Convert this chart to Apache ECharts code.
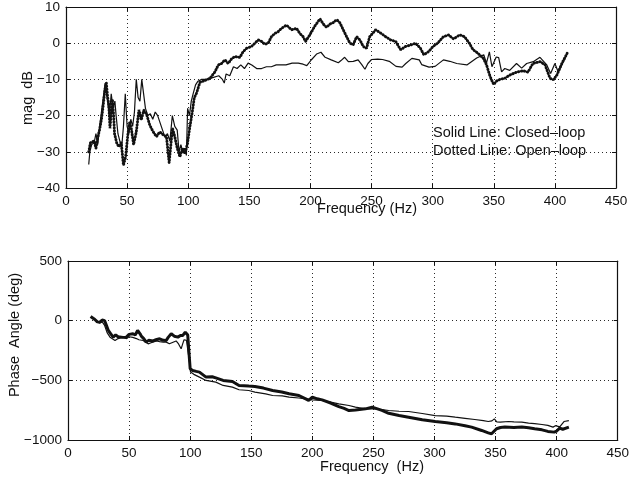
<!DOCTYPE html>
<html>
<head>
<meta charset="utf-8">
<script src="https://cdn.jsdelivr.net/npm/echarts@6/dist/echarts.min.js"></script>
<style>
html,body{margin:0;padding:0;background:#fff;}
#chart{width:632px;height:481px;}
</style>
</head>
<body>
<div id="chart"></div>
<script>
// ---------- DATA ----------
// Top panel: magnitude (dB)
var magFreqClosed = [18.6,19.5,21,23,24.5,26,27.5,29,30.5,32,33,34,35.5,37,38.5,40,41,42.5,44,45.5,47,48.5,50,51.5,53,54.5,56,57.5,59,60.5,62,63.5,65,67,69,71,73,75,77,79,81,83,85,87,89,91,92.5,94,95.5,97,98.5,99.5,101,102.5,104,106,108,111,115,120,125,128,129.5,131,134,137,140,143,146,149,152,156,160,164,168,172,176,180,185,190,194,197,201,205,208.6,212,217,222.8,225,228,231,235,239,242,244.6,247,250,255,259,264.5,270,275,278,283,289,291,297,302,308.8,314,319.7,328,336,341.8,344,346.4,348.5,352,354,356.4,359,363,368.6,372.8,376.9,382.3,387.8,393.2,396.5,400,402.8,406.9,410];
var magClosed = [-33.5,-30,-28,-27.5,-25,-28,-23,-19,-15,-11,-10.5,-16,-20,-14,-18,-16,-20,-25,-27,-29,-23,-14,-23,-25,-21,-23,-19,-10,-15,-16,-10,-14,-18,-20,-19.5,-21,-19,-20,-22,-24,-26,-25,-27,-20,-23,-24,-30,-28,-30,-29,-31,-18,-20,-16,-14,-11.5,-10.5,-10,-10,-9.5,-9,-10,-11,-8.5,-9,-6.5,-7,-6,-7,-5.5,-6,-7,-7,-6.5,-6.5,-6,-6,-6,-5.5,-5.5,-5.8,-6.2,-4.5,-3,-2.5,-3.9,-4.6,-5.4,-4.8,-3.9,-5.1,-5,-4.6,-5.9,-7.2,-5.6,-4.5,-4.4,-4.5,-5,-6.4,-6.6,-5.6,-4.2,-4.6,-5.9,-6.6,-6.4,-4.6,-5,-5.6,-6,-4.1,-3.2,-5.5,-2.4,-6.5,-3.8,-4,-7.9,-7,-7.5,-5.6,-6.9,-5.6,-5.1,-3.9,-5.9,-8.4,-5.6,-8,-5.1,-2.8];
var magFreqOpen = [18.6,20,21.5,23,24.5,26,27.4,29,30,31.5,32.3,33,34,35,36,37,38,39,39.7,41.6,43.3,45.2,47,48.8,50.7,52,53.4,55.3,57.5,59.7,61.6,63.6,65.8,68.5,71.2,74,76.7,79.5,82.2,84.4,87.1,89,91,93.2,95.3,97.3,99.2,101.4,103.6,105,106.8,109.6,113.7,117.8,121.9,124.6,127.3,130,132.7,135.5,138.2,142.3,145,147.7,151.8,154.5,157.3,160,162.7,165.4,168.1,170.9,173.6,176.3,180.4,184.5,188.6,191.3,194,196,199.5,203.7,207.8,210.5,213.2,216,218.7,221.5,224,227,229.6,232.3,235,237.8,240.5,243.2,245.9,248.5,253.3,257.5,261.5,265.6,269.7,273.8,277.8,282,286,290,292.8,296.8,300,304,308.8,313,317,322.3,326,330,333,336,338.7,341.5,344,346.4,348,350,352,355,359,363,368.6,374,378,382,388,392,396,398.8,401.6,405.7,410];
var magOpen = [-30,-27.5,-28,-27,-29,-26,-24,-21,-18.4,-14,-12,-11,-14.7,-17,-23.5,-19,-15.6,-20,-25,-27.7,-28.6,-27.5,-33.7,-31.4,-25,-22,-23.5,-28,-24.5,-18.4,-21.2,-18.5,-19.5,-22.6,-24.4,-25.8,-24.5,-25.3,-25.8,-33,-23.5,-25.8,-29,-31.4,-29,-30.5,-28,-23,-18.4,-15,-13.8,-10.8,-10.3,-9.7,-7.9,-6,-5.6,-4.6,-5.6,-4.3,-3.7,-3.9,-2.3,-1.4,-0.9,0,0.9,0.5,-0.3,0,1.8,2.7,3.2,4.1,5,3.7,4.1,2.7,1.8,0.5,2.3,4.8,6.7,5.3,4.4,5.3,5.7,6.5,5.7,3.6,1.8,0,-0.4,1.8,0.9,-0.9,-1.4,1.8,3.7,2.8,1.8,0.9,0.5,-1.8,-0.9,-0.5,0,-1.4,-3.2,-2.3,-1,0,1.8,2.3,1.2,2.3,1.8,0,-1.8,-2.5,-3.3,-4.2,-5.9,-8.6,-10,-11.4,-10.5,-10,-9.7,-8.8,-8,-7.6,-8,-5.6,-5.1,-6,-9.7,-10.1,-8.8,-5.6,-2.8];

// Bottom panel: phase angle (deg)
var phaseFreqClosed = [20.6,23,26,28,30,32,34.4,36,38.5,41,43,45.2,48,50,53,56,58,61.5,63,65.6,68,70,72.4,75,78,80.4,83,85,88.5,90.5,92.6,94,95,97,98,99.5,100.3,103,107.6,113,121,127,134.6,140,148,153,161.8,167.5,175.4,181,189,194.6,200,208,215,221.7,230,235.3,243.5,249,257,262.5,271,278.8,290,300.6,310,317,325,333,340,344,347,349,351,353.8,360.6,365,371.5,377,382,388,392.8,397,399,400.5,402.5,406,410];
var phaseClosed = [16,0,-20,-10,-40,-100,-138,-150,-166,-150,-145,-140,-150,-135,-140,-150,-160,-166,-180,-194,-185,-178,-170,-175,-180,-180,-194,-185,-170,-195,-236,-190,-160,-165,-152,-350,-431,-450,-473,-501,-515,-543,-557,-579,-585,-599,-613,-627,-630,-641,-648,-655,-664,-669,-682,-697,-711,-725,-739,-738,-745,-753,-759,-761,-778,-795,-800,-809,-818,-828,-838,-845,-840,-823,-848,-851,-845,-848,-851,-858,-862,-870,-878,-892,-880,-885,-890,-845,-837];
var phaseFreqOpen = [18.5,20,22,24,26,28,30,31.5,33,35,37,39,41,42.4,45,47.8,50,53.2,55,57,59,60,62,64,66,69.6,72,75,78,80.4,82,84.5,87,90,92,94,96,98,99,100,102,105,107.6,113,118,121,127,134.6,140,148,153,160,167.5,175,181,189,194.6,197,200,204,208,215,221.7,226,230,235.3,243.5,249,257,262.5,271,278.8,290,300.6,310,317,325,330.4,338.6,344,346.7,350.8,354,357.6,365,371.5,377,382,388,392.8,398,400,402.5,405,410];
var phaseOpen = [35,20,10,-10,-13,5,0,-40,-82,-110,-138,-120,-135,-125,-140,-138,-115,-110,-120,-82,-110,-130,-150,-180,-165,-170,-160,-152,-165,-166,-140,-110,-130,-138,-125,-124,-96,-120,-264,-403,-417,-425,-431,-473,-470,-480,-501,-510,-543,-548,-551,-565,-585,-598,-613,-627,-655,-668,-641,-655,-664,-690,-720,-735,-753,-748,-739,-725,-752,-776,-795,-809,-830,-845,-855,-865,-880,-892,-920,-940,-948,-906,-895,-892,-895,-892,-898,-906,-915,-928,-934,-925,-900,-910,-892];

// Tick values / labels
var freqTicks = [0,50,100,150,200,250,300,350,400,450];
var magTicks = [-40,-30,-20,-10,0,10];
var phaseTicks = [-1000,-500,0,500];
var texts = {
  magName: 'mag  dB',
  phaseName: 'Phase  Angle (deg)',
  freqTop: 'Frequency (Hz)',
  freqBottom: 'Frequency  (Hz)',
  legend1: 'Solid Line: Closed\u2013loop',
  legend2: 'Dotted Line: Open\u2013loop'
};

// ---------- CHART ----------
function zip(xs, ys){ return xs.map(function(x,i){ return [x, ys[i]]; }); }
function fmt(v){ return String(v).replace('-', '\u2212'); }

var FONT = 'Liberation Sans, Arial, Helvetica, sans-serif';
var INK = '#111111';
var gridLine = { show:true, lineStyle:{ color:'#2a2a2a', width:1, type:[1,3] } };

function xAx(gi, pos, labels){
  return {
    type:'value', gridIndex:gi, position:pos, min:0, max:450, interval:50,
    axisLine:{ show:true, onZero:false, lineStyle:{ color:INK, width:1.2 } },
    axisTick:{ show:true, inside:true, length:4, lineStyle:{ color:INK } },
    axisLabel:{ show:labels, color:INK, fontFamily:FONT, fontSize:13.5, margin:6, formatter:fmt },
    splitLine: labels ? gridLine : { show:false }
  };
}
function yAx(gi, pos, labels, mn, mx, iv){
  return {
    type:'value', gridIndex:gi, position:pos, min:mn, max:mx, interval:iv,
    axisLine:{ show:true, onZero:false, lineStyle:{ color:INK, width:1.2 } },
    axisTick:{ show:true, inside:true, length:4, lineStyle:{ color:INK } },
    axisLabel:{ show:labels, color:INK, fontFamily:FONT, fontSize:13.5, margin:6, formatter:fmt },
    splitLine: labels ? gridLine : { show:false }
  };
}

var chart = echarts.init(document.getElementById('chart'), null, { renderer:'canvas' });
chart.setOption({
  animation:false,
  backgroundColor:'#ffffff',
  grid:[
    { left:66, top:7, width:550, height:181 },
    { left:68, top:261, width:552, height:179 }
  ],
  xAxis:[ xAx(0,'bottom',true), xAx(0,'top',false), xAx(1,'bottom',true), xAx(1,'top',false) ],
  yAxis:[ yAx(0,'left',true,-40,10,10), yAx(0,'right',false,-40,10,10),
          yAx(1,'left',true,-1000,500,500), yAx(1,'right',false,-1000,500,500) ],
  series:[
    { name:'Closed-loop mag', type:'line', xAxisIndex:0, yAxisIndex:0, data:zip(magFreqClosed, magClosed),
      showSymbol:false, lineStyle:{ color:INK, width:1.2 }, z:3 },
    { name:'Open-loop mag', type:'line', xAxisIndex:0, yAxisIndex:0, data:zip(magFreqOpen, magOpen),
      showSymbol:false, lineStyle:{ color:INK, width:2.9, type:[0.4,2.6], cap:'round' }, z:4 },
    { name:'Closed-loop phase', type:'line', xAxisIndex:2, yAxisIndex:2, data:zip(phaseFreqClosed, phaseClosed),
      showSymbol:false, lineStyle:{ color:INK, width:1.2 }, z:3 },
    { name:'Open-loop phase', type:'line', xAxisIndex:2, yAxisIndex:2, data:zip(phaseFreqOpen, phaseOpen),
      showSymbol:false, lineStyle:{ color:INK, width:3 }, z:4 }
  ],
  graphic:[
    { type:'text', x:28, y:98, rotation:Math.PI/2,
      style:{ text:texts.magName, fill:INK, font:'14.5px '+FONT, textAlign:'center', textVerticalAlign:'middle' } },
    { type:'text', x:15, y:335, rotation:Math.PI/2,
      style:{ text:texts.phaseName, fill:INK, font:'14.5px '+FONT, textAlign:'center', textVerticalAlign:'middle' } },
    { type:'text', x:367, y:209,
      style:{ text:texts.freqTop, fill:INK, font:'14.5px '+FONT, textAlign:'center', textVerticalAlign:'middle' } },
    { type:'text', x:372, y:467,
      style:{ text:texts.freqBottom, fill:INK, font:'14.5px '+FONT, textAlign:'center', textVerticalAlign:'middle' } },
    { type:'text', x:433, y:133,
      style:{ text:texts.legend1, fill:INK, font:'14.5px '+FONT, textAlign:'left', textVerticalAlign:'middle' } },
    { type:'text', x:433, y:151,
      style:{ text:texts.legend2, fill:INK, font:'14.5px '+FONT, textAlign:'left', textVerticalAlign:'middle' } }
  ]
});
</script>
</body>
</html>
